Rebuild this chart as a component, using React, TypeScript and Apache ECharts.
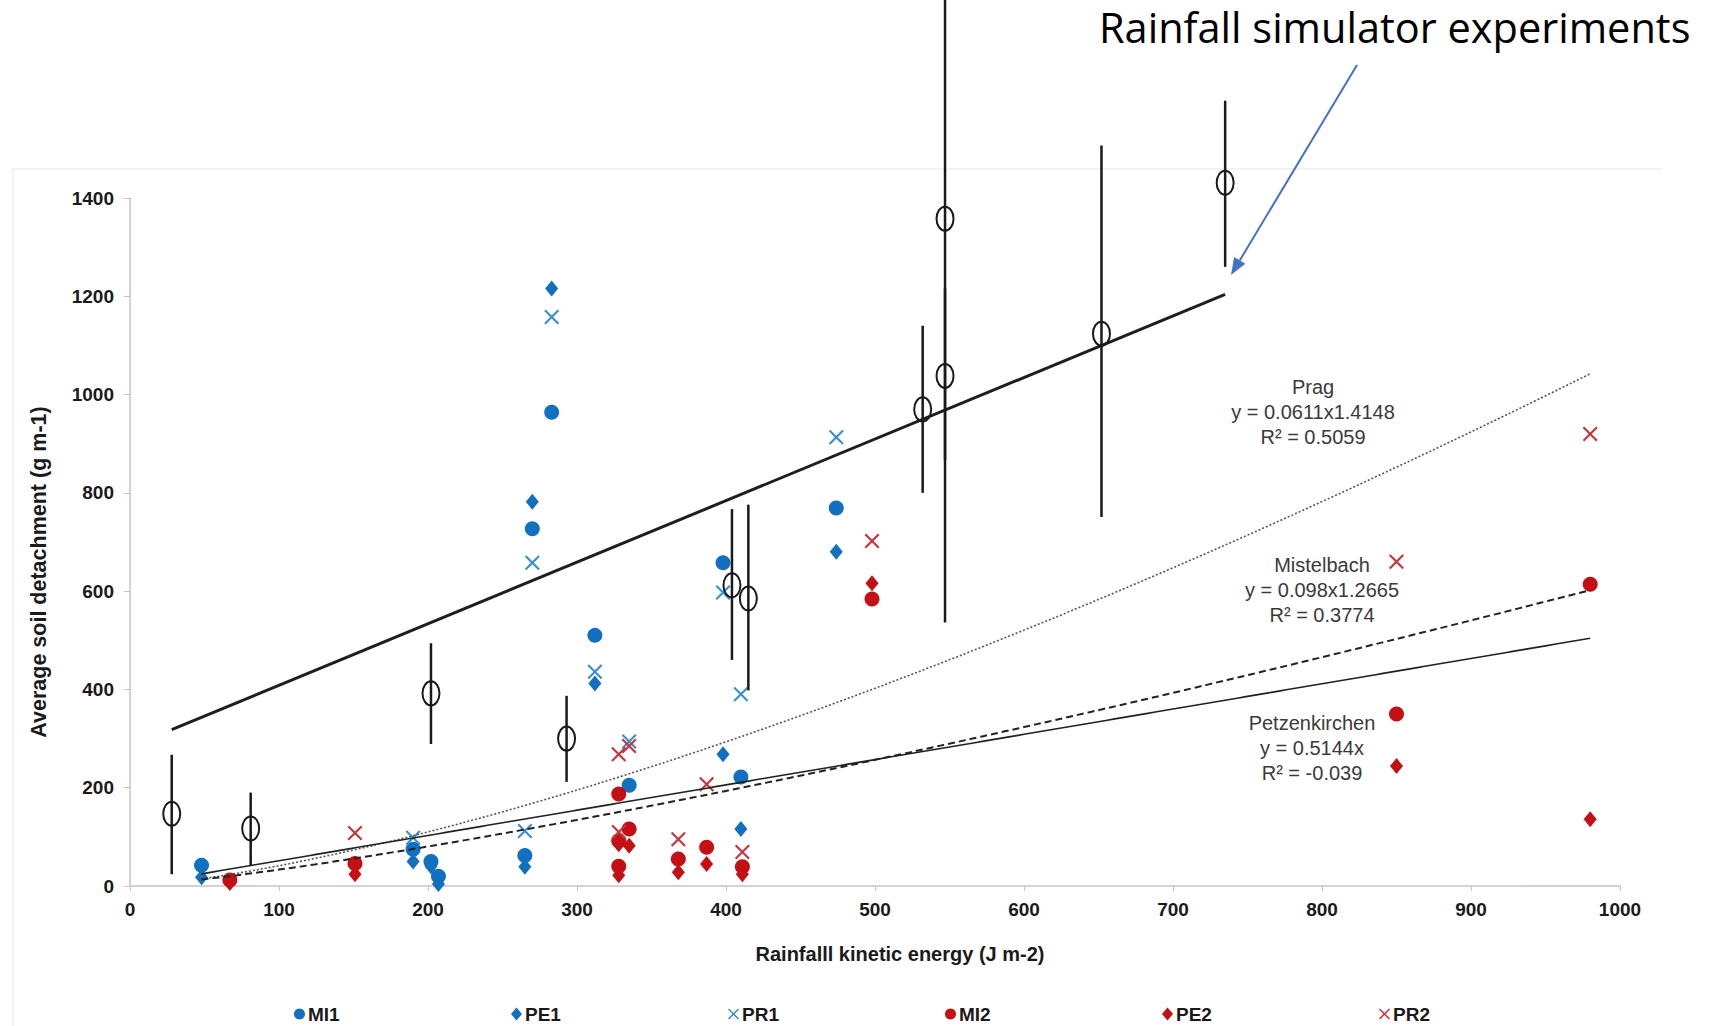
import React, { useEffect, useRef } from "react";
import * as echarts from "echarts";

const FONT = '"Liberation Sans", Arial, sans-serif';

// ---- Field plots, site 1 (blue) ----
const MI1_X = [48, 190, 202, 207, 265, 270, 283, 312, 335, 398, 410, 474];
const MI1_Y = [42, 75, 50, 20, 62, 727, 964, 510, 205, 658, 222, 769];
const PE1_X = [48, 190, 202, 207, 265, 270, 283, 312, 398, 410, 474];
const PE1_Y = [18, 50, 40, 4, 39, 782, 1216, 412, 268, 116, 680];
const PR1_X = [190, 265, 270, 283, 312, 335, 398, 410, 474];
const PR1_Y = [98, 112, 658, 1158, 436, 294, 597, 390, 913];

// ---- Field plots, site 2 (red) ----
const MI2_X = [67, 151, 328, 328, 328, 335, 368, 387, 411, 498, 850, 980];
const MI2_Y = [12, 46, 187, 92, 40, 116, 55, 79, 39, 584, 350, 614];
const PE2_X = [67, 151, 328, 328, 335, 368, 387, 411, 498, 850, 980];
const PE2_Y = [6, 24, 85, 22, 82, 28, 45, 24, 616, 244, 136];
const PR2_X = [151, 328, 328, 335, 368, 387, 411, 498, 850, 980];
const PR2_Y = [108, 268, 110, 285, 95, 207, 69, 702, 660, 920];

// ---- Rainfall simulator experiments (mean, low, high) ----
const SIM_X = [28, 81, 202, 293, 404, 415, 532, 547, 547, 652, 735];
const SIM_Y = [147, 117, 392, 300, 612, 585, 970, 1038, 1358, 1124, 1431];
const SIM_LO = [24, 42, 289, 212, 460, 398, 800, 867, 536, 751, 1260];
const SIM_HI = [267, 190, 494, 387, 767, 776, 1140, 1216, 1850, 1507, 1598];
const SIM_LINE_X = [28, 735];
const SIM_LINE_Y = [318, 1204];

// ---- Trendline equations shown in the chart ----
const PRAG = { a: 0.0611, b: 1.4148 };
const MISTELBACH = { a: 0.098, b: 1.2665 };
const PETZEN = { a: 0.5144 };
const TREND_X_START = 48;
const TREND_X_END = 980;
const TREND_STEP = 4;

const X_TICK_INTERVAL = 100;
const Y_TICK_INTERVAL = 200;

const LEGEND_NAMES = ["MI1", "PE1", "PR1", "MI2", "PE2", "PR2"];

const X_SYMBOL = "path://M0,1L1,0L5,4L9,0L10,1L6,5L10,9L9,10L5,6L1,10L0,9L4,5Z";

const zip = (xs: number[], ys: number[]) => xs.map((x, i) => [x, ys[i]]);

const trendXs: number[] = [];
for (let x = TREND_X_START; x <= TREND_X_END; x += TREND_STEP) trendXs.push(x);
const pragData = trendXs.map((x) => [x, PRAG.a * Math.pow(x, PRAG.b)]);
const mistData = trendXs.map((x) => [x, MISTELBACH.a * Math.pow(x, MISTELBACH.b)]);
const petzData = trendXs.map((x) => [x, PETZEN.a * x]);

const simData = SIM_X.map((x, i) => [x, SIM_Y[i], SIM_LO[i], SIM_HI[i]]);

const BLUE = "#1170c0";
const BLUE_X = "#3a8fd0";
const RED = "#c40f14";
const RED_X = "#c8343c";

export default function App() {
  const ref = useRef<HTMLDivElement>(null);

  useEffect(() => {
    if (!ref.current) return;
    const chart = echarts.init(ref.current, null, { renderer: "svg" });

    const labelStyle = {
      fontSize: 19,
      fontWeight: "bold" as const,
      color: "#1a1a1a",
      fontFamily: FONT,
    };

    const scatter = (name: string, xs: number[], ys: number[], symbol: string, size: any, color: string) => ({
      name,
      type: "scatter",
      data: zip(xs, ys),
      symbol,
      symbolSize: size,
      itemStyle: { color, opacity: 1 },
      z: 3,
    });

    const trendLine = (name: string, data: number[][], type: any, width: number, color: string) => ({
      name,
      type: "line",
      data,
      showSymbol: false,
      symbol: "none",
      lineStyle: { type, width, color },
      z: 4,
      silent: true,
    });

    const arrowStart = [1357, 65];
    const arrowTip = [1231, 275];
    const dx = arrowTip[0] - arrowStart[0];
    const dy = arrowTip[1] - arrowStart[1];
    const len = Math.sqrt(dx * dx + dy * dy);
    const ux = dx / len;
    const uy = dy / len;
    const headLen = 17;
    const headHalf = 6.5;
    const bx = arrowTip[0] - ux * headLen;
    const by = arrowTip[1] - uy * headLen;

    const trendLabelStyle = {
      fontSize: 20,
      fontFamily: FONT,
      fill: "#3a3a3a",
      textAlign: "center",
      textVerticalAlign: "top",
      lineHeight: 25,
    };

    const plain = (v: number) => String(v);

    chart.setOption({
      animation: false,
      backgroundColor: "#ffffff",
      grid: { left: 130, right: 89, top: 198, bottom: 140 },
      xAxis: {
        type: "value",
        min: 0,
        max: 1000,
        interval: X_TICK_INTERVAL,
        axisLine: { show: true, lineStyle: { color: "#c4c4c4", width: 1.5 } },
        axisTick: { show: true, length: 5, lineStyle: { color: "#c4c4c4" } },
        splitLine: { show: false },
        axisLabel: { ...labelStyle, margin: 14, formatter: plain },
        name: "Rainfalll kinetic energy (J m-2)",
        nameLocation: "middle",
        nameGap: 58,
        nameTextStyle: { ...labelStyle, fontSize: 20, padding: [0, 0, 0, 50] },
      },
      yAxis: {
        type: "value",
        min: 0,
        max: 1400,
        interval: Y_TICK_INTERVAL,
        axisLine: { show: true, lineStyle: { color: "#c4c4c4", width: 1.5 } },
        axisTick: { show: true, length: 6, lineStyle: { color: "#c4c4c4" } },
        splitLine: { show: false },
        axisLabel: { ...labelStyle, margin: 16, formatter: plain },
        name: "Average soil detachment (g m-1)",
        nameLocation: "middle",
        nameRotate: 90,
        nameGap: 80,
        nameTextStyle: { ...labelStyle, fontSize: 21.5, padding: [0, 60, 0, 0] },
      },
      legend: {
        data: LEGEND_NAMES,
        left: 289,
        top: 999,
        itemGap: 163,
        itemWidth: 11,
        itemHeight: 13,
        textStyle: { ...labelStyle, fontSize: 19, lineHeight: 20, width: 40, padding: [0, 0, 0, -2] },
      },
      series: [
        scatter("MI1", MI1_X, MI1_Y, "circle", 15, BLUE),
        scatter("PE1", PE1_X, PE1_Y, "diamond", [13, 16], BLUE),
        scatter("PR1", PR1_X, PR1_Y, X_SYMBOL, 15, BLUE_X),
        scatter("MI2", MI2_X, MI2_Y, "circle", 15, RED),
        scatter("PE2", PE2_X, PE2_Y, "diamond", [13, 16], RED),
        scatter("PR2", PR2_X, PR2_Y, X_SYMBOL, 15, RED_X),
        trendLine("Prag trend", pragData, [2, 2], 1.6, "#555555"),
        trendLine("Mistelbach trend", mistData, [7, 4], 2, "#222222"),
        trendLine("Petzenkirchen trend", petzData, "solid", 1.6, "#222222"),
        {
          name: "Simulator trend",
          type: "line",
          data: zip(SIM_LINE_X, SIM_LINE_Y),
          symbol: "none",
          lineStyle: { color: "#1e1e1e", width: 3 },
          z: 5,
          silent: true,
        },
        {
          name: "Rainfall simulator",
          type: "custom",
          clip: false,
          z: 6,
          silent: true,
          encode: { x: 0, y: 1 },
          data: simData,
          renderItem: (params: any, api: any) => {
            const x = api.value(0);
            const c = api.coord([x, api.value(1)]);
            const lo = api.coord([x, api.value(2)]);
            const hi = api.coord([x, api.value(3)]);
            return {
              type: "group",
              children: [
                {
                  type: "line",
                  shape: { x1: lo[0], y1: lo[1], x2: hi[0], y2: hi[1] },
                  style: { stroke: "#1a1a1a", lineWidth: 2.5 },
                },
                {
                  type: "ellipse",
                  shape: { cx: c[0], cy: c[1], rx: 8.5, ry: 12 },
                  style: { fill: "none", stroke: "#1a1a1a", lineWidth: 2 },
                },
              ],
            };
          },
        },
      ],
      graphic: [
        {
          type: "polyline",
          shape: { points: [[13, 1026], [13, 169], [1662, 169]] },
          style: { stroke: "#eeeeee", lineWidth: 1.5, fill: "none" },
          silent: true,
        },
        {
          type: "text",
          left: 1099,
          top: 6,
          style: {
            text: "Rainfall simulator experiments",
            fontSize: 41.5,
            fontFamily: '"Open Sans", sans-serif',
            fill: "#000000",
          },
        },
        {
          type: "line",
          shape: { x1: arrowStart[0], y1: arrowStart[1], x2: bx, y2: by },
          style: { stroke: "#4472c4", lineWidth: 2 },
        },
        {
          type: "polygon",
          shape: {
            points: [
              [arrowTip[0], arrowTip[1]],
              [bx - uy * headHalf, by + ux * headHalf],
              [bx + uy * headHalf, by - ux * headHalf],
            ],
          },
          style: { fill: "#4472c4" },
        },
        {
          type: "text",
          x: 1313,
          y: 374,
          style: { ...trendLabelStyle, text: "Prag\ny = 0.0611x1.4148\nR² = 0.5059" },
        },
        {
          type: "text",
          x: 1322,
          y: 552,
          style: { ...trendLabelStyle, text: "Mistelbach\ny = 0.098x1.2665\nR² = 0.3774" },
        },
        {
          type: "text",
          x: 1312,
          y: 710,
          style: { ...trendLabelStyle, text: "Petzenkirchen\ny = 0.5144x\nR² = -0.039" },
        },
      ],
    });

    return () => chart.dispose();
  }, []);

  return (
    <div
      ref={ref}
      style={{ position: "absolute", left: 0, top: 0, width: 1709, height: 1026, background: "#fff" }}
    />
  );
}
